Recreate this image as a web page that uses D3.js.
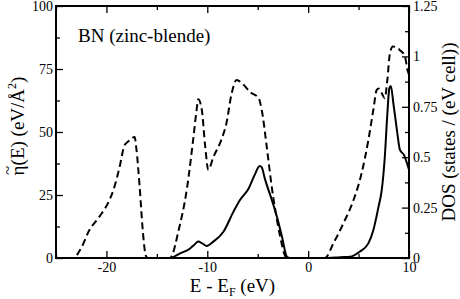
<!DOCTYPE html>
<html><head><meta charset="utf-8">
<script src="https://cdn.jsdelivr.net/npm/d3@7"></script>
<style>body{margin:0;background:#fff}svg{display:block}</style>
</head><body><svg id="c" width="460" height="299" font-family="Liberation Serif"></svg>
<script>
// Dashed curve: DOS (right axis, states / (eV cell))
const dosE = [-25,-23.3,-22.5,-21.7,-20.7,-19.7,-19.2,-18.7,-18.2,-17.9,-17.2,-17.05,-16.7,-16.4,-16.1,-15.9,-13.7,-13.5,-12.9,-12.0,-11.4,-11.05,-10.9,-10.55,-10.2,-9.9,-9.4,-8.6,-8.1,-7.6,-7.1,-6.4,-5.8,-4.9,-4.6,-4.1,-3.6,-3.3,-2.8,-2.3,-2.1,1.5,1.67,2.5,3.5,4.5,5.3,5.97,6.46,6.8,7.0,7.3,7.6,7.85,8.1,8.4,9.1,9.6,9.85,10];
const dosV = [0,0,0.05,0.1375,0.205,0.2875,0.354,0.45,0.56,0.575,0.6,0.55,0.35,0.1375,0.0125,0,0,0.0125,0.125,0.35,0.5875,0.7375,0.7875,0.7375,0.55,0.4375,0.5,0.5875,0.669,0.8125,0.8825,0.859,0.825,0.7925,0.734,0.55,0.35,0.25,0.1125,0.0125,0,0,0,0.0725,0.1725,0.2875,0.42,0.585,0.734,0.834,0.841,0.8175,0.7925,0.8825,1.0125,1.049,1.031,1.0,0.9325,0.91];
// Solid curve: eta (left axis, eV/Å^2)
const etaE = [-25,-14.7,-13.7,-12.7,-11.7,-11.3,-10.9,-10.5,-10.05,-9.4,-8.4,-7.4,-6.76,-5.9,-5.3,-4.8,-4.6,-4.3,-3.6,-3.0,-2.6,-2.1,-1.8,2.0,3.16,4.15,5.1,5.97,6.46,6.96,7.3,7.6,7.85,8.05,8.2,8.45,8.8,9.1,9.5,9.77,10];
const etaV = [0,0,0,1.8,3.8,5.2,6.5,5.8,4.8,6.5,10.4,18.4,23,27.6,33,36.5,36,31.6,23,15,8.5,0.5,0,0,0.3,0.5,2.5,5.8,11,20,27,40,57,67.3,68.3,61.4,50.8,42.9,40.9,38,35];
const xTicks = [-20,-10,0,10];
const xMinor = [-25,-15,-5,5];
const leftTicks = [0,25,50,75,100];
const leftMinor = [12.5,37.5,62.5,87.5];
const rightTicks = [0,0.25,0.5,0.75,1,1.25];
const rightTickLabels = ["0","0.25","0.5","0.75","1","1.25"];
const rightMinor = [0.125,0.375,0.625,0.875,1.125];
const annotation = "BN (zinc-blende)";

const FF="'Liberation Serif'";
const L=56,R=409,T=6,B=258;
const svg=d3.select("#c");
const x=d3.scaleLinear().domain([-25,10]).range([L,R]);
const yL=d3.scaleLinear().domain([0,100]).range([B,T]);
const yR=d3.scaleLinear().domain([0,1.25]).range([B,T]);

svg.append("clipPath").attr("id","cp").append("rect").attr("x",L).attr("y",T).attr("width",R-L).attr("height",B-T);
const g=svg.append("g").attr("clip-path","url(#cp)");
const lineD=d3.line().x(d=>x(d[0])).y(d=>yR(d[1])).curve(d3.curveMonotoneX);
const lineS=d3.line().x(d=>x(d[0])).y(d=>yL(d[1])).curve(d3.curveMonotoneX);
g.append("path").datum(dosE.map((e,i)=>[e,dosV[i]])).attr("d",lineD).attr("fill","none").attr("stroke","#000").attr("stroke-width",2).attr("stroke-dasharray","7,4");
g.append("path").datum(etaE.map((e,i)=>[e,etaV[i]])).attr("d",lineS).attr("fill","none").attr("stroke","#000").attr("stroke-width",2);

const fmt=()=>"";
function ax(gen,tr){return svg.append("g").attr("transform",tr).call(gen);}
ax(d3.axisBottom(x).tickValues(xTicks).tickSize(-7).tickPadding(4).tickFormat(d=>d),`translate(0,${B})`);
ax(d3.axisBottom(x).tickValues(xMinor).tickSize(-4).tickFormat(fmt),`translate(0,${B})`);
ax(d3.axisTop(x).tickValues(xTicks).tickSize(-7).tickFormat(fmt),`translate(0,${T})`);
ax(d3.axisTop(x).tickValues(xMinor).tickSize(-4).tickFormat(fmt),`translate(0,${T})`);
ax(d3.axisLeft(yL).tickValues(leftTicks).tickSize(-7).tickPadding(3).tickFormat(d=>d),`translate(${L},0)`);
ax(d3.axisLeft(yL).tickValues(leftMinor).tickSize(-4).tickFormat(fmt),`translate(${L},0)`);
ax(d3.axisRight(yR).tickValues(rightTicks).tickSize(-7).tickPadding(4).tickFormat((d,i)=>rightTickLabels[i]),`translate(${R},0)`);
ax(d3.axisRight(yR).tickValues(rightMinor).tickSize(-4).tickFormat(fmt),`translate(${R},0)`);
svg.selectAll(".domain").remove();
svg.selectAll(".tick line").attr("stroke","#000").attr("stroke-width",1.3);
svg.selectAll(".tick text").style("font-family",FF).style("font-size","14px").attr("fill","#000");
svg.append("rect").attr("x",L).attr("y",T).attr("width",R-L).attr("height",B-T).attr("fill","none").attr("stroke","#000").attr("stroke-width",2);

function txt(size){return svg.append("text").style("font-family",FF).style("font-size",size+"px").attr("fill","#000");}
const xt=txt(19).attr("x",(L+R)/2).attr("y",292).attr("text-anchor","middle");
xt.append("tspan").text("E - E");
xt.append("tspan").style("font-size","12px").attr("dy",4).text("F");
xt.append("tspan").attr("dy",-4).text(" (eV)");

const yt=txt(19).attr("transform","translate(24,126) rotate(-90)").attr("text-anchor","middle");
yt.append("tspan").text("\u03B7(E) (eV/\u00C5");
yt.append("tspan").style("font-size","12px").attr("dy",-8).text("2");
yt.append("tspan").attr("dy",8).text(")");
// tilde over eta
const ex=yt.node().getExtentOfChar(0);
const cy=126-(ex.x+ex.width/2);
txt(17).attr("transform",`translate(${24-11},${cy}) rotate(-90)`).attr("text-anchor","middle").text("~");

txt(19).attr("transform","translate(455,132) rotate(-90)").attr("text-anchor","middle").text("DOS (states / (eV cell))");
txt(19).attr("x",78).attr("y",42).text(annotation);
</script></body></html>
